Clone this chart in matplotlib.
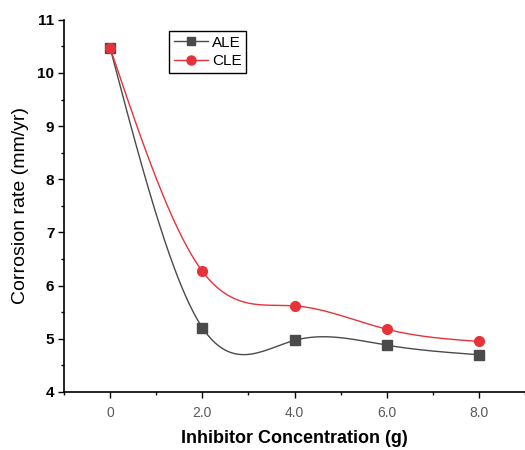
import matplotlib
matplotlib.use('Agg')
import matplotlib.pyplot as plt
from matplotlib.ticker import MultipleLocator
import numpy as np

conc = [0, 2, 4, 6, 8]
ale = [10.47, 5.21, 4.97, 4.88, 4.70]
cle = [10.47, 6.27, 5.62, 5.18, 4.95]
xtick_labels = ["0", "2.0", "4.0", "6.0", "8.0"]


def natural_spline(x, y, n=300):
    """Smooth line through the points (natural cubic spline), like Origin."""
    x = np.asarray(x, float)
    y = np.asarray(y, float)
    m = len(x)
    h = np.diff(x)
    A = np.zeros((m, m))
    b = np.zeros(m)
    A[0, 0] = 1
    A[-1, -1] = 1
    for i in range(1, m - 1):
        A[i, i - 1] = h[i - 1]
        A[i, i] = 2 * (h[i - 1] + h[i])
        A[i, i + 1] = h[i]
        b[i] = 6 * ((y[i + 1] - y[i]) / h[i] - (y[i] - y[i - 1]) / h[i - 1])
    M = np.linalg.solve(A, b)
    xs = np.linspace(x[0], x[-1], n)
    k = np.clip(np.searchsorted(x, xs) - 1, 0, m - 2)
    t0 = x[k + 1] - xs
    t1 = xs - x[k]
    hk = h[k]
    ys = (M[k] * t0 ** 3 / (6 * hk) + M[k + 1] * t1 ** 3 / (6 * hk)
          + (y[k] / hk - M[k] * hk / 6) * t0
          + (y[k + 1] / hk - M[k + 1] * hk / 6) * t1)
    return xs, ys


plt.rcParams['font.family'] = ['Liberation Sans', 'DejaVu Sans']

fig = plt.figure(figsize=(5.25, 4.5), dpi=100)
ax = fig.add_axes([0.122, 0.129, 0.878, 0.827])

grey = '#4a4a4a'
red = '#e8323a'

xs, ys = natural_spline(conc, ale)
ax.plot(xs, ys, color=grey, lw=1.0)
ax.plot(conc, ale, 's', color=grey, ms=6.5)
xs, ys = natural_spline(conc, cle)
ax.plot(xs, ys, color=red, lw=1.0)
ax.plot(conc, cle, 'o', color=red, ms=7)

# legend handles with line + marker
h1, = ax.plot([], [], '-s', color=grey, lw=1.0, ms=6)
h2, = ax.plot([], [], '-o', color=red, lw=1.0, ms=6.5)
leg = ax.legend([h1, h2], ["ALE", "CLE"], loc='upper left',
                bbox_to_anchor=(0.212, 0.99), fancybox=False,
                edgecolor='black', framealpha=1, fontsize=11,
                handlelength=2.2, borderpad=0.3, labelspacing=0.3,
                handletextpad=0.3)
leg.get_frame().set_linewidth(1.0)

ax.set_xlim(-1, 9)
ax.set_ylim(4, 11)
ax.set_xticks(conc)
ax.set_xticklabels(xtick_labels, color='#5a5a5a', fontsize=10)
ax.xaxis.set_minor_locator(MultipleLocator(1))
ax.yaxis.set_major_locator(MultipleLocator(1))
ax.yaxis.set_minor_locator(MultipleLocator(0.5))
for lab in ax.get_yticklabels():
    lab.set_fontweight('bold')
    lab.set_fontsize(11)
ax.tick_params(which='major', direction='out', length=4, width=1.0)
ax.tick_params(which='minor', direction='out', length=2.5, width=1.0)
ax.tick_params(axis='x', pad=6)
ax.tick_params(axis='y', pad=3)

ax.spines['top'].set_visible(False)
ax.spines['right'].set_visible(False)
for s in ['left', 'bottom']:
    ax.spines[s].set_linewidth(1.2)

ax.set_ylabel("Corrosion rate (mm/yr)", fontsize=14, labelpad=6)
ax.set_xlabel("Inhibitor Concentration (g)", fontsize=13,
              fontweight='bold', labelpad=7)

fig.savefig("out.png", dpi=100)
